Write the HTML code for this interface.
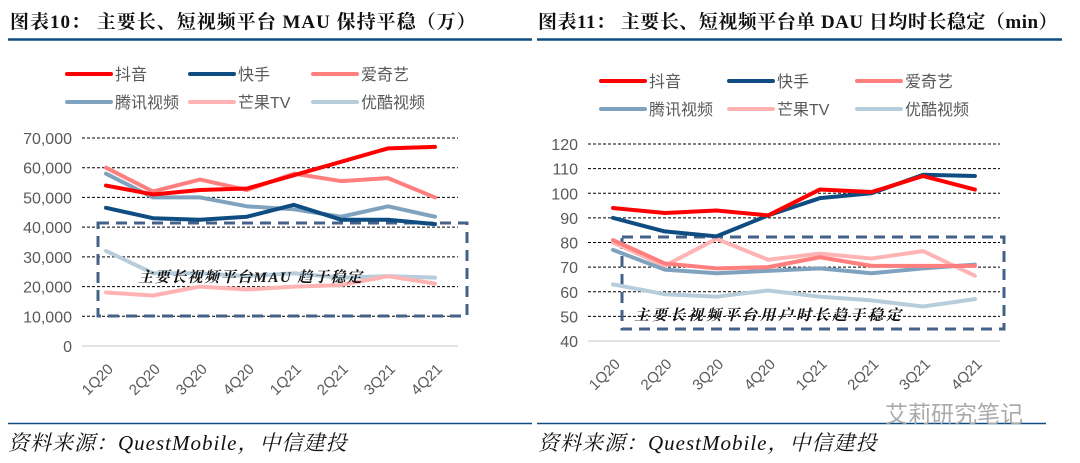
<!DOCTYPE html>
<html><head><meta charset="utf-8">
<style>
body{margin:0;width:1080px;height:463px;background:#fff;overflow:hidden;font-family:"Liberation Serif","Noto Serif CJK SC",serif;}
svg{position:absolute;left:0;top:0}
</style></head>
<body>
<svg id="s" width="1080" height="463">
<text x="10" y="28" font-size="19" font-weight="bold" fill="#111" letter-spacing="1" font-family="Liberation Serif,Noto Serif CJK SC,serif">图表10：  主要长、短视频平台 MAU 保持平稳（万）</text>
<text x="538" y="28" font-size="19" font-weight="bold" fill="#111" letter-spacing="0.5" font-family="Liberation Serif,Noto Serif CJK SC,serif">图表11：  主要长、短视频平台单 DAU 日均时长稳定（min）</text>
<line x1="8" y1="39.5" x2="532" y2="39.5" stroke="#0f4c81" stroke-width="2.5"/>
<line x1="537" y1="39.5" x2="1062" y2="39.5" stroke="#0f4c81" stroke-width="2.5"/>
<line x1="8" y1="423.5" x2="532" y2="423.5" stroke="#0f4c81" stroke-width="1.5"/>
<line x1="537" y1="423.5" x2="1046" y2="423.5" stroke="#0f4c81" stroke-width="1.5"/>
<text x="8" y="450" font-size="21" font-style="italic" fill="#111" letter-spacing="1">资料来源：QuestMobile，中信建投</text>
<text x="538" y="450" font-size="21" font-style="italic" fill="#111" letter-spacing="1">资料来源：QuestMobile，中信建投</text>
<text x="885" y="422" font-size="23" fill="#aaa" font-family="Liberation Sans,Noto Sans CJK SC,sans-serif">艾莉研究笔记</text>
<g id="L"></g><g id="R"></g>
</svg>
<script>
const categories=["1Q20","2Q20","3Q20","4Q20","1Q21","2Q21","3Q21","4Q21"];
const seriesNames=["抖音","快手","爱奇艺","腾讯视频","芒果TV","优酷视频"];
const seriesColors=["#ff0000","#0f4c81","#ff7f7f","#7fa3bf","#ffb3b3","#b8cddc"];
const mauDouyin=[54000,51000,52500,53000,57500,62000,66500,67000];
const mauKuaishou=[46500,43000,42500,43500,47500,42500,42500,41000];
const mauIqiyi=[60000,52000,56000,52500,58000,55500,56500,50000];
const mauTencent=[58000,50000,50000,47000,46000,43500,47000,43500];
const mauMango=[18000,17000,20000,19000,20000,20500,23500,21000];
const mauYouku=[32000,24500,24500,23500,24500,23000,23500,23000];
const mauTicks=[0,10000,20000,30000,40000,50000,60000,70000];
const durDouyin=[94,92,93,91,101.5,100.5,107,101.5];
const durKuaishou=[90,84.5,82.5,91,98,100,107.5,107];
const durIqiyi=[81,71.5,69.5,70,74,70.5,70.5,70.5];
const durTencent=[77,69,67.5,68.5,69.5,67.5,69.5,71];
const durMango=[80,70.5,81.5,73,75.5,73.5,76.5,66.5];
const durYouku=[63,59,58,60.5,58,56.5,54,57];
const durTicks=[40,50,60,70,80,90,100,110,120];

const NS="http://www.w3.org/2000/svg";
function mk(parent,tag,attrs){const e=document.createElementNS(NS,tag);for(const k in attrs)e.setAttribute(k,attrs[k]);parent.appendChild(e);return e;}

function chart(g,cfg,data,ticks,fmt,prefix){
  const yMin=ticks[0],yMax=ticks[ticks.length-1];
  const y=v=>cfg.y0+(v-yMin)/(yMax-yMin)*(cfg.y1-cfg.y0);
  const x=i=>cfg.x0+i*cfg.step;
  ticks.forEach((t,i)=>{
    const ln=mk(g,"line",{x1:cfg.gx0,x2:cfg.gx1,y1:y(t),y2:y(t),stroke:i==0?"#d9d9d9":"#000","stroke-width":i==0?1.5:1,"stroke-dasharray":i==0?"":"3,2"});
    
    
    const tx=mk(g,"text",{x:cfg.lx,y:y(t)+6,"text-anchor":"end","font-size":16,fill:"#595959","font-family":"Liberation Sans,sans-serif"});
    tx.textContent=fmt(t);
    
    
  });
  categories.forEach((c,i)=>{
    const tx=mk(g,"text",{transform:`translate(${x(i)+8},${cfg.y0+24}) rotate(-45)`,"text-anchor":"end","font-size":15,fill:"#595959","font-family":"Liberation Sans,sans-serif"});
    tx.textContent=c;
    
    
  });
  const b=cfg.box;
  const box=mk(g,"rect",{x:b[0],y:b[1],width:b[2]-b[0],height:b[3]-b[1],fill:"none",stroke:"#44618a","stroke-width":3,"stroke-dasharray":"11,7"});
  
  
  const order=[5,4,3,2,1,0];
  order.forEach(k=>{
    const pts=data[k].map((v,i)=>x(i)+","+y(v)).join(" ");
    const pl=mk(g,"polyline",{points:pts,fill:"none",stroke:seriesColors[k],"stroke-width":4,"stroke-linejoin":"round","stroke-linecap":"round"});
    
    
  });
  const an=mk(g,"text",{x:cfg.ann[0],y:cfg.ann[1],"font-size":15,"letter-spacing":cfg.annLs,"font-style":"italic","font-weight":"bold",fill:"#111","font-family":"Liberation Serif,Noto Serif CJK SC,serif"});
  an.textContent=cfg.annText;
  
  
  seriesNames.forEach((n,k)=>{
    const lx=cfg.legX+(k%3)*cfg.legStep, ly=cfg.legY+Math.floor(k/3)*28;
    const ln=mk(g,"line",{x1:lx,x2:lx+44,y1:ly,y2:ly,stroke:seriesColors[k],"stroke-width":4,"stroke-linecap":"round"});
    
    
    const tx=mk(g,"text",{x:lx+48,y:ly+6,"font-size":16,fill:"#595959","font-family":"Liberation Sans,Noto Sans CJK SC,sans-serif"});
    tx.textContent=n;
    
    
  });
}
chart(document.getElementById("L"),{x0:106,step:47,y0:346,y1:138,gx0:82,gx1:458,lx:72,box:[98,223,467,316],ann:[138,282],annLs:1.5,annText:"主要长视频平台MAU 趋于稳定",legX:67,legStep:123,legY:74},
  [mauDouyin,mauKuaishou,mauIqiyi,mauTencent,mauMango,mauYouku],mauTicks,t=>t.toLocaleString("en-US"),"mau");
chart(document.getElementById("R"),{x0:613,step:51.7,y0:341,y1:144,gx0:588,gx1:1000,lx:578,box:[622,237,1004,329],ann:[634,320],annLs:3,annText:"主要长视频平台用户时长趋于稳定",legX:601,legStep:128,legY:81},
  [durDouyin,durKuaishou,durIqiyi,durTencent,durMango,durYouku],durTicks,t=>String(t),"dur");
</script>
</body></html>
